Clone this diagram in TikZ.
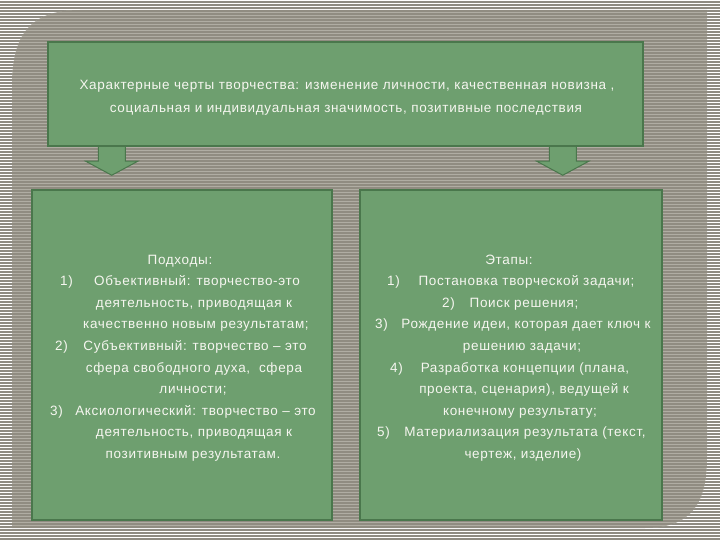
\documentclass[tikz,border=0pt]{standalone}
\usepackage{fontspec}
\setmainfont[LetterSpace=5]{Liberation Sans}
\usetikzlibrary{calc}
\definecolor{boxgreen}{HTML}{6E9F6F}
\definecolor{boxedge}{HTML}{4A774C}
\definecolor{stripeA}{HTML}{8E8B82}
\definecolor{panelA}{HTML}{B0ADA3}
\definecolor{panelB}{HTML}{908C81}
\definecolor{txtcol}{HTML}{F6F6F0}
\tikzset{
  box/.style={draw=boxedge, fill=boxgreen, line width=2.5pt, inner sep=0pt},
  blockarrow/.style={draw=boxedge, fill=boxgreen, line width=1pt, line join=miter},
  txt/.style={text=txtcol, inner sep=0pt, font=\fontsize{13.5}{15}\selectfont, anchor=base},
  num/.style={txt, anchor=base west},
}
\begin{document}
\begin{tikzpicture}[x=1pt,y=-1pt]
\useasboundingbox (0,0) rectangle (720,540);
% background stripes
\fill[white] (0,0) rectangle (720,540);
\foreach \i in {0,...,179} \fill[stripeA] (0,3*\i+1) rectangle (720,3*\i+2.8);
% inner panel
\begin{scope}
\clip (12,528) -- (12,85) .. controls (12,35) and (30,10) .. (80,10) -- (707,10) -- (707,458) .. controls (707,505) and (690,528) .. (645,528) -- cycle;
\fill[panelA] (0,0) rectangle (720,540);
\foreach \i in {0,...,179} \fill[panelB] (0,3*\i+1) rectangle (720,3*\i+2.6);
\end{scope}
% top box
\node[box, minimum width=595pt, minimum height=104pt] (top) at (345.5,94) {};
% arrows
\coordinate (a1) at ($(top.south west)+(65,0)$);
\coordinate (a2) at ($(top.south east)+(-81.5,0)$);
\draw[blockarrow, shift={(a1)}] (-13.5,0) -- (-13.5,14) -- (-26,14) -- (0,28) -- (26,14) -- (13.5,14) -- (13.5,0);
\draw[blockarrow, shift={(a2)}] (-13.5,0) -- (-13.5,14) -- (-26,14) -- (0,28) -- (26,14) -- (13.5,14) -- (13.5,0);
\node[box, minimum width=595pt, minimum height=104pt] at (top) {};
% lower boxes
\node[box, minimum width=300pt, minimum height=330pt] (left) at (182,355) {};
\node[box, minimum width=302pt, minimum height=330pt] (right) at (511,355) {};
% top text
\node[txt] (t1) at (347,90) {Характерные черты творчества: изменение личности, качественная новизна ,};
\node[txt] (t2) at (346,113) {социальная и индивидуальная значимость, позитивные последствия};
% left text
\node[txt] (l1) at (180,264) {Подходы:};
\node[num] (n1) at (60,285.6) {1)};
\node[txt] (l2) at (197,285.6) {Объективный: творчество-это};
\node[txt] (l3) at (194,307.2) {деятельность, приводящая к};
\node[txt] (l4) at (196,328.8) {качественно новым результатам;};
\node[num] (n2) at (55,350.4) {2)};
\node[txt] (l5) at (195,350.4) {Субъективный: творчество – это};
\node[txt] (l6) at (194,372) {сфера свободного духа,\ \ сфера};
\node[txt] (l7) at (193,393.6) {личности;};
\node[num] (n3) at (50,415.2) {3)};
\node[txt] (l8) at (195.5,415.2) {Аксиологический: творчество – это};
\node[txt] (l9) at (194,436.8) {деятельность, приводящая к};
\node[txt] (l10) at (193,458.4) {позитивным результатам.};
% right text
\node[txt] (r1) at (509,264) {Этапы:};
\node[num] (m1) at (387,285.6) {1)};
\node[txt] (r2) at (526.5,285.6) {Постановка творческой задачи;};
\node[num] (m2) at (442,307.2) {2)};
\node[txt] (r3) at (524,307.2) {Поиск решения;};
\node[num] (m3) at (375,328.8) {3)};
\node[txt] (r4) at (526,328.8) {Рождение идеи, которая дает ключ к};
\node[txt] (r5) at (522,350.4) {решению задачи;};
\node[num] (m4) at (390,372) {4)};
\node[txt] (r6) at (525,372) {Разработка концепции (плана,};
\node[txt] (r7) at (524,393.6) {проекта, сценария), ведущей к};
\node[txt] (r8) at (520,415.2) {конечному результату;};
\node[num] (m5) at (377,436.8) {5)};
\node[txt] (r9) at (525,436.8) {Материализация результата (текст,};
\node[txt] (r10) at (523,458.4) {чертеж, изделие)};
\end{tikzpicture}
\end{document}
